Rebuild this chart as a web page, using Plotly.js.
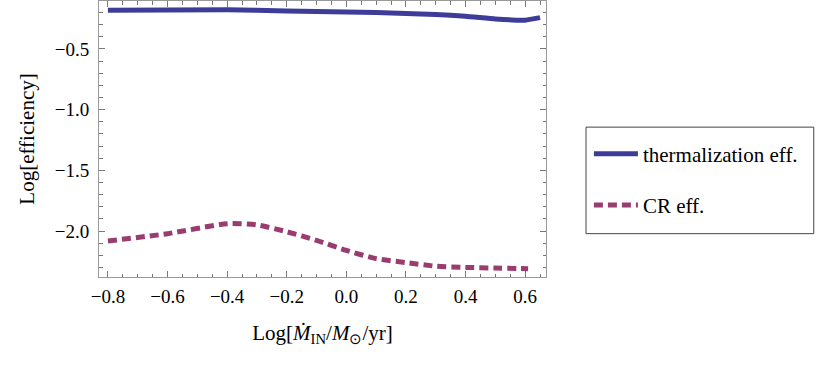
<!DOCTYPE html>
<html>
<head>
<meta charset="utf-8">
<script src="https://cdn.plot.ly/plotly-3.0.1.min.js"></script>
<style>
  body { margin: 0; background: #fff; }
  #myDiv { width: 830px; height: 368px; }
</style>
</head>
<body>
<div id="myDiv"></div>
<script>
// log of accretion rate (x) and log efficiency (y)
var thermX = [-0.8, -0.4, -0.2, 0.0, 0.1, 0.2, 0.3, 0.4, 0.5, 0.6, 0.65];
var thermY = [-0.181, -0.178, -0.187, -0.195, -0.199, -0.209, -0.217, -0.230, -0.253, -0.263, -0.242];

var crX = [-0.8, -0.6, -0.4, -0.3, -0.2, -0.1, 0.0, 0.1, 0.2, 0.3, 0.4, 0.5, 0.61];
var crY = [-2.082, -2.022, -1.94, -1.95, -2.006, -2.077, -2.16, -2.228, -2.26, -2.29, -2.30, -2.305, -2.31];

var seriesNames = ['thermalization eff.', 'CR eff.'];

var serif = 'Liberation Serif';

var trace1 = {
  x: thermX,
  y: thermY,
  name: seriesNames[0],
  legendgroup: 'a',
  type: 'scatter',
  mode: 'lines',
  line: { color: '#3d3d99', width: 5, shape: 'spline', smoothing: 0.4 }
};

var trace2 = {
  x: crX,
  y: crY,
  name: seriesNames[1],
  legendgroup: 'b',
  type: 'scatter',
  mode: 'lines',
  line: { color: '#993d71', width: 5, dash: '9px,5px', shape: 'spline', smoothing: 0.6 }
};

var data = [trace1, trace2];

var layout = {
  width: 830,
  height: 368,
  margin: { l: 99, r: 284, t: 1, b: 91 },
  paper_bgcolor: '#fff',
  plot_bgcolor: '#fff',
  font: { family: serif, size: 19, color: '#000' },
  showlegend: true,
  legend: {
    x: 1.096,
    y: 0.353,
    xanchor: 'left',
    yanchor: 'middle',
    itemwidth: 44,
    bgcolor: 'rgba(0,0,0,0)',
    borderwidth: 0,
    tracegroupgap: 21,
    font: { family: serif, size: 21, color: '#000' }
  },
  shapes: [{
    type: 'rect',
    xref: 'paper',
    yref: 'paper',
    x0: 1.0895, x1: 1.599,
    y0: 0.157, y1: 0.543,
    line: { color: '#444', width: 1 }
  }],
  xaxis: {
    range: [-0.83, 0.67],
    tick0: 0,
    dtick: 0.2,
    tickformat: '.1f',
    tickfont: { family: serif, size: 19, color: '#000' },
    ticks: 'inside',
    ticklen: 6,
    tickcolor: '#777',
    showline: true,
    linecolor: '#999',
    linewidth: 1,
    mirror: 'allticks',
    showgrid: false,
    zeroline: false,
    ticklabelstandoff: 2,
    minor: { dtick: 0.05, ticks: 'inside', ticklen: 3.5, tickcolor: '#777', showgrid: false },
    title: { text: 'Log[<i>Ṁ</i><sub>IN</sub>/<i>M</i><sub>⊙</sub>/yr]', standoff: 19, font: { family: serif, size: 21, color: '#000' } }
  },
  yaxis: {
    range: [-2.379, -0.105],
    tick0: 0,
    dtick: 0.5,
    tickformat: '.1f',
    tickfont: { family: serif, size: 19, color: '#000' },
    ticks: 'inside',
    ticklen: 6,
    tickcolor: '#777',
    showline: true,
    linecolor: '#999',
    linewidth: 1,
    mirror: 'allticks',
    showgrid: false,
    zeroline: false,
    ticklabelstandoff: 5,
    minor: { dtick: 0.1, ticks: 'inside', ticklen: 3.5, tickcolor: '#777', showgrid: false },
    title: { text: 'Log[efficiency]', standoff: 14, font: { family: serif, size: 21, color: '#000' } }
  }
};

Plotly.newPlot('myDiv', data, layout, { displayModeBar: false, staticPlot: true });
</script>
</body>
</html>
